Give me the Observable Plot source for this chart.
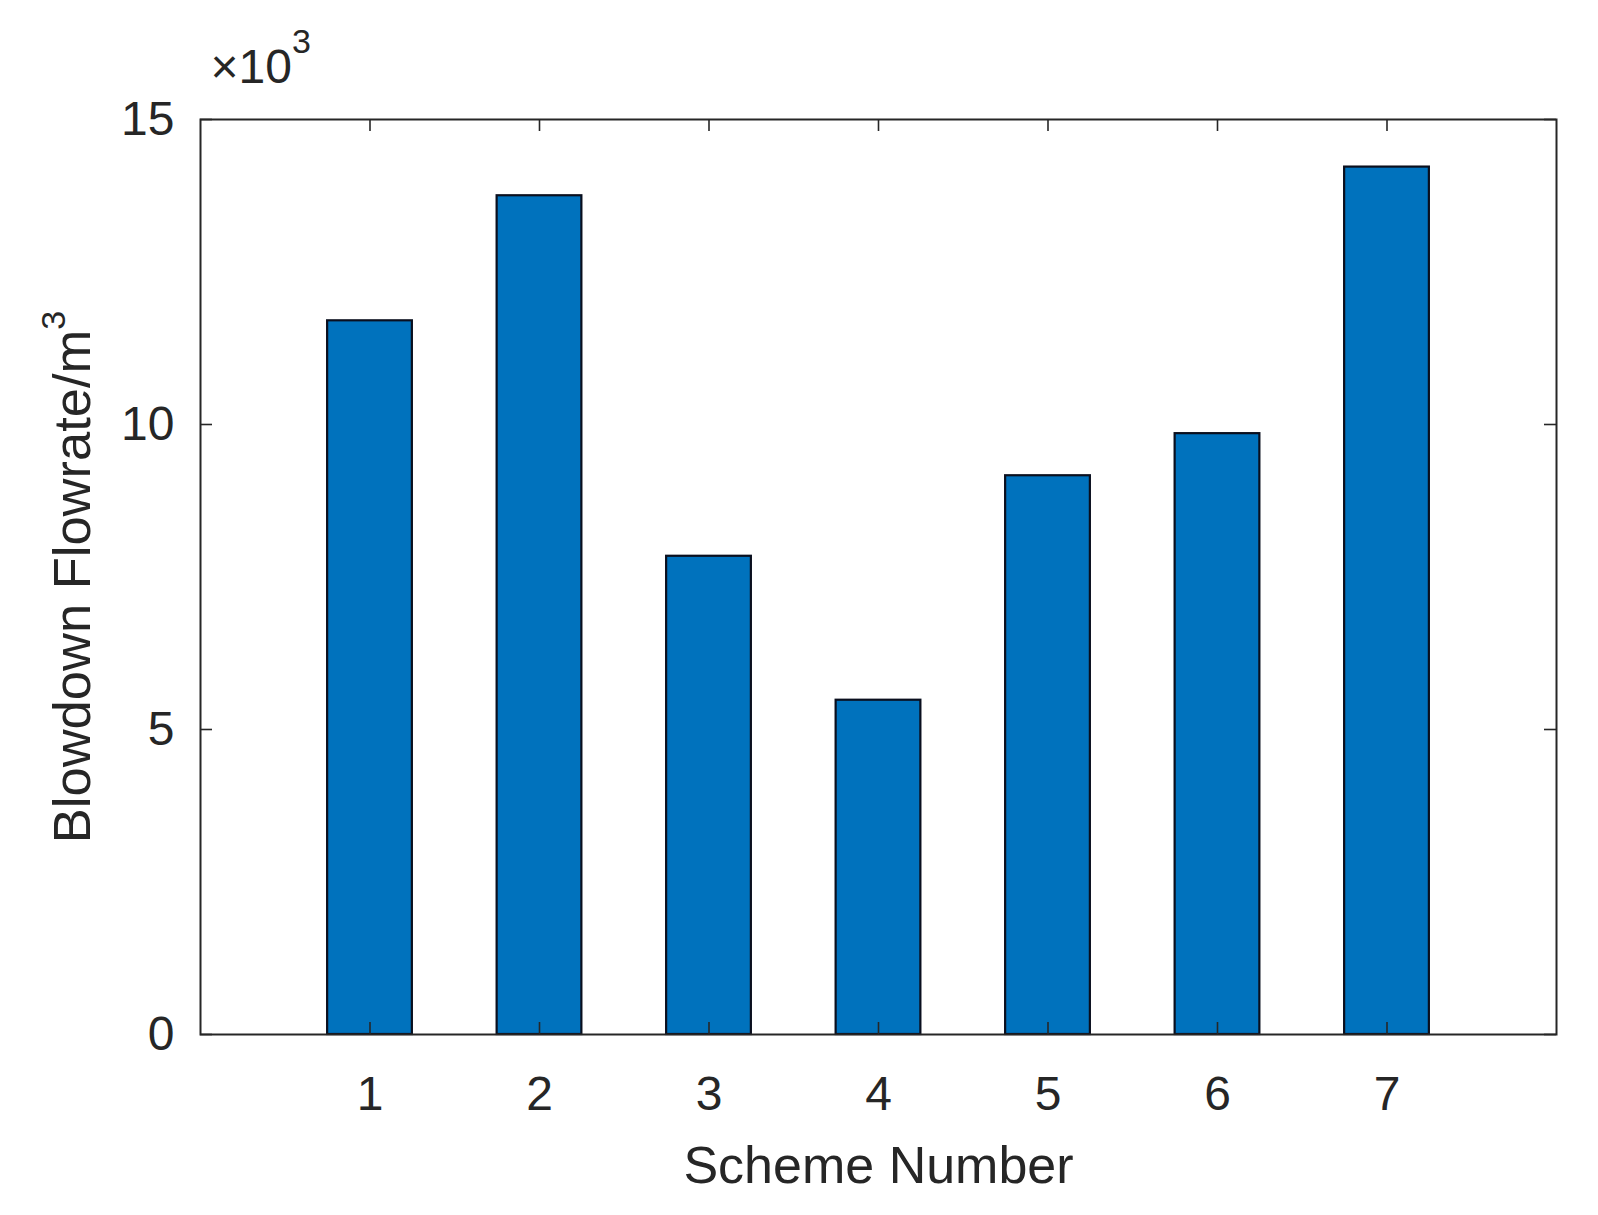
<!DOCTYPE html>
<html><head><meta charset="utf-8">
<script src="https://cdn.jsdelivr.net/npm/d3@7"></script>
<script src="https://cdn.jsdelivr.net/npm/@observablehq/plot@0.6"></script>
<style>body{margin:0;background:#fff}</style>
</head><body><div id="chart"></div>
<script>
const schemes = [1, 2, 3, 4, 5, 6, 7];
const flowrates = [11700, 13750, 7840, 5480, 9160, 9850, 14220];
const xTicks = [1, 2, 3, 4, 5, 6, 7];
const yTicks = [0, 5000, 10000, 15000];
const xLabel = "Scheme Number";
const yLabel = "Blowdown Flowrate/m";
const yLabelSup = "3";
const exponentText = "×10";
const exponentSup = "3";

const data = schemes.map((s, i) => ({scheme: s, value: flowrates[i]}));
const W = 1598, H = 1215, mt = 119, mb = 181, ml = 200, mr = 42;
const innerH = H - mt - mb, innerW = W - ml - mr;
const tickLen = 12;
const ink = "#262626";
const font = "'Liberation Sans', Arial, Helvetica, sans-serif";

const plot = Plot.plot({
  width: W, height: H,
  marginTop: mt, marginBottom: mb, marginLeft: ml, marginRight: mr,
  style: {fontFamily: font, background: "#fff", color: ink},
  x: {type: "linear", domain: [0, 8]},
  y: {type: "linear", domain: [0, 15000]},
  marks: [
    Plot.rect(data, {x1: d => d.scheme - 0.25, x2: d => d.scheme + 0.25, y1: 0, y2: "value",
      fill: "#0072BD", stroke: "#0a0f1e", strokeWidth: 2.2}),
    Plot.frame({stroke: ink, strokeWidth: 2}),
    Plot.tickX(xTicks, {x: d => d, insetTop: innerH - tickLen, stroke: ink, strokeWidth: 1.6}),
    Plot.tickX(xTicks, {x: d => d, insetBottom: innerH - tickLen, stroke: ink, strokeWidth: 1.6}),
    Plot.tickY(yTicks, {y: d => d, insetRight: innerW - tickLen, stroke: ink, strokeWidth: 1.6}),
    Plot.tickY(yTicks, {y: d => d, insetLeft: innerW - tickLen, stroke: ink, strokeWidth: 1.6}),
    Plot.axisX(xTicks, {tickSize: 0, tickPadding: 41, fontSize: 48, label: null, fill: ink,
      tickFormat: d => String(d)}),
    Plot.axisY(yTicks, {tickSize: 0, tickPadding: 26, fontSize: 48, label: null, fill: ink,
      tickFormat: d => String(d / 1000)}),
    Plot.text([xLabel], {text: d => d, frameAnchor: "bottom", lineAnchor: "top", dy: 112,
      fontSize: 52, fill: ink}),
    Plot.text([yLabel], {text: d => d, frameAnchor: "left", rotate: -90, lineAnchor: "middle",
      textAnchor: "middle", dx: -127, fontSize: 52.5, fill: ink}),
    Plot.text([exponentText], {text: d => d, frameAnchor: "top-left", textAnchor: "start",
      lineAnchor: "bottom", dx: 10, dy: -37, fontSize: 48, fill: ink})
  ]
});

// add real superscripts
d3.select(plot).selectAll("text").each(function() {
  const t = this.textContent;
  if (t === yLabel || t === exponentText) {
    const sel = d3.select(this);
    sel.text(null);
    sel.append("tspan").text(t);
    sel.append("tspan").attr("dy", t === yLabel ? -25 : -30).attr("font-size", 34)
      .text(t === yLabel ? yLabelSup : exponentSup);
  }
});

document.getElementById("chart").appendChild(plot);
</script>
</body></html>
